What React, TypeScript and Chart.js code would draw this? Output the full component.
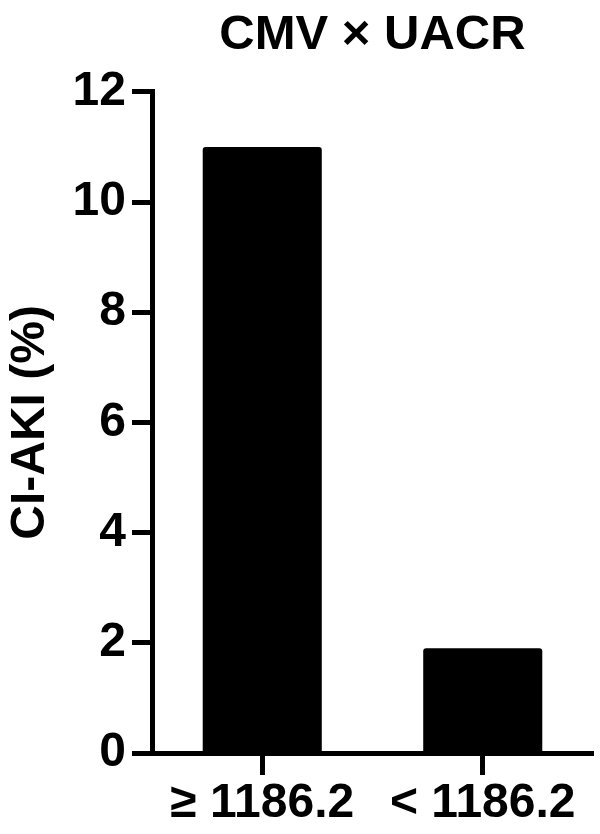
import React, { useEffect, useRef } from 'react';
import { Chart, registerables } from 'chart.js';

Chart.register(...registerables);

const categories = ['≥ 1186.2', '< 1186.2'];
const values = [11.0, 1.9];
const yTicks = [0, 2, 4, 6, 8, 10, 12];
const titleText = 'CMV × UACR';
const yTitle = 'CI-AKI (%)';

const FAMILY = '"Liberation Sans", Arial, Helvetica, sans-serif';

export default function App() {
  const ref = useRef<HTMLCanvasElement>(null);
  useEffect(() => {
    document.body.style.margin = '0';
    const font = { family: FAMILY, size: 48, weight: 'bold' as const };
    const chart = new Chart(ref.current!, {
      type: 'bar',
      data: {
        labels: categories,
        datasets: [
          {
            data: values,
            backgroundColor: '#000',
            borderColor: '#000',
            borderRadius: 3,
            categoryPercentage: 1,
            barPercentage: 0.54,
          },
        ],
      },
      options: {
        animation: false,
        responsive: false,
        devicePixelRatio: 1,
        layout: { padding: { right: 7, left: 0, top: 0, bottom: 0 } },
        plugins: {
          legend: { display: false },
          tooltip: { enabled: false },
          title: {
            display: true,
            text: titleText,
            fullSize: false,
            color: '#000',
            font: { ...font, size: 49 },
            padding: { top: 6, bottom: 27 },
          },
        },
        scales: {
          x: {
            border: { display: true, color: '#000', width: 5 },
            grid: {
              display: true,
              offset: false,
              drawOnChartArea: false,
              drawTicks: true,
              tickLength: 22,
              tickWidth: 5,
              tickColor: '#000',
              color: '#000',
            },
            ticks: { color: '#000', font, padding: 0, maxRotation: 0, autoSkip: false },
            afterFit: (s: any) => {
              s.height = 81;
            },
          },
          y: {
            min: 0,
            max: 12,
            border: { display: true, color: '#000', width: 5 },
            grid: {
              display: true,
              drawOnChartArea: false,
              drawTicks: true,
              tickLength: 20,
              tickWidth: 5,
              tickColor: '#000',
              color: '#000',
            },
            ticks: { color: '#000', font, padding: 6, stepSize: 2 },
            afterBuildTicks: (s: any) => {
              s.ticks = yTicks.map((v) => ({ value: v }));
            },
            title: {
              display: true,
              text: yTitle,
              color: '#000',
              font,
              padding: { top: 2, bottom: 0 },
            },
            afterFit: (s: any) => {
              s.width = 152;
            },
          },
        },
      },
    });
    return () => chart.destroy();
  }, []);
  return (
    <div style={{ width: 600, height: 834 }}>
      <canvas ref={ref} width={600} height={834} style={{ display: 'block' }} />
    </div>
  );
}
